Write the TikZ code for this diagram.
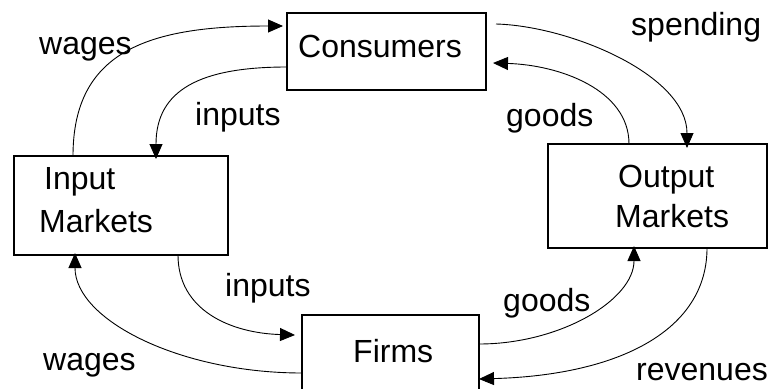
\documentclass[tikz,border=0pt]{standalone}
\usepackage{fontspec}
\setmainfont{Liberation Sans}
\usetikzlibrary{arrows.meta}
\begin{document}
\begin{tikzpicture}[x=1pt,y=-1pt,
  box/.style={draw=black,line width=1.2pt,fill=white,inner sep=0pt,outer sep=0pt},
  lbl/.style={anchor=base west,inner sep=0pt,font=\fontsize{32}{38}\selectfont},
  flow/.style={draw=black,line width=0.9pt,-{Triangle[length=15pt,width=13pt]}}]
\useasboundingbox (0,0) rectangle (773,388);
% boxes
\node[box,minimum width=199pt,minimum height=77pt] (con) at (386.5,51.5) {};
\node[box,minimum width=214pt,minimum height=99pt] (inp) at (121,205.5) {};
\node[box,minimum width=219pt,minimum height=104pt] (out) at (657.5,196) {};
\node[box,minimum width=177pt,minimum height=90pt] (firm) at (390.5,360) {};
% box texts
\node[lbl] (tcon) at (298,57) {Consumers};
\node[lbl] (tinp1) at (44,189) {Input};
\node[lbl] (tinp2) at (39,232) {Markets};
\node[lbl] (tout1) at (618,187) {Output};
\node[lbl] (tout2) at (615,227) {Markets};
\node[lbl] (tfirm) at (353,362) {Firms};
% flow labels
\node[lbl] (l1) at (39,54) {wages};
\node[lbl] (l2) at (195,125) {inputs};
\node[lbl] (l3) at (631,35) {spending};
\node[lbl] (l4) at (506,126) {goods};
\node[lbl] (l5) at (225,296) {inputs};
\node[lbl] (l6) at (43,370) {wages};
\node[lbl] (l7) at (503,311) {goods};
\node[lbl] (l8) at (636,380) {revenues};
% connectors
\draw[flow] ([xshift=59pt]inp.north west) .. controls (73,50) and (150,26) .. ([xshift=-4pt,yshift=-13pt]con.north west);
\draw[flow] ([yshift=-54pt]con.north west) .. controls (200,67) and (156,90) .. ([xshift=142pt,yshift=-3pt]inp.north west);
\draw[flow] ([xshift=10pt,yshift=-11pt]con.north east) .. controls (570,26) and (687,75) .. ([xshift=139pt,yshift=-4pt]out.north west);
\draw[flow] ([xshift=81pt]out.north west) .. controls (629,90) and (560,65) .. ([xshift=7pt,yshift=-50pt]con.north east);
\draw[flow] ([xshift=164pt]inp.south west) .. controls (178,310) and (230,333) .. ([xshift=-7pt,yshift=-20pt]firm.north west);
\draw[flow] ([yshift=-58pt]firm.north west) .. controls (180,373) and (75,320) .. ([xshift=61pt,yshift=2pt]inp.south west);
\draw[flow] ([yshift=-29pt]firm.north east) .. controls (560,344) and (634,300) .. ([xshift=86pt,yshift=2pt]out.south west);
\draw[flow] ([xshift=159pt]out.south west) .. controls (707,330) and (620,375) .. ([yshift=-64pt]firm.north east);
\end{tikzpicture}
\end{document}
